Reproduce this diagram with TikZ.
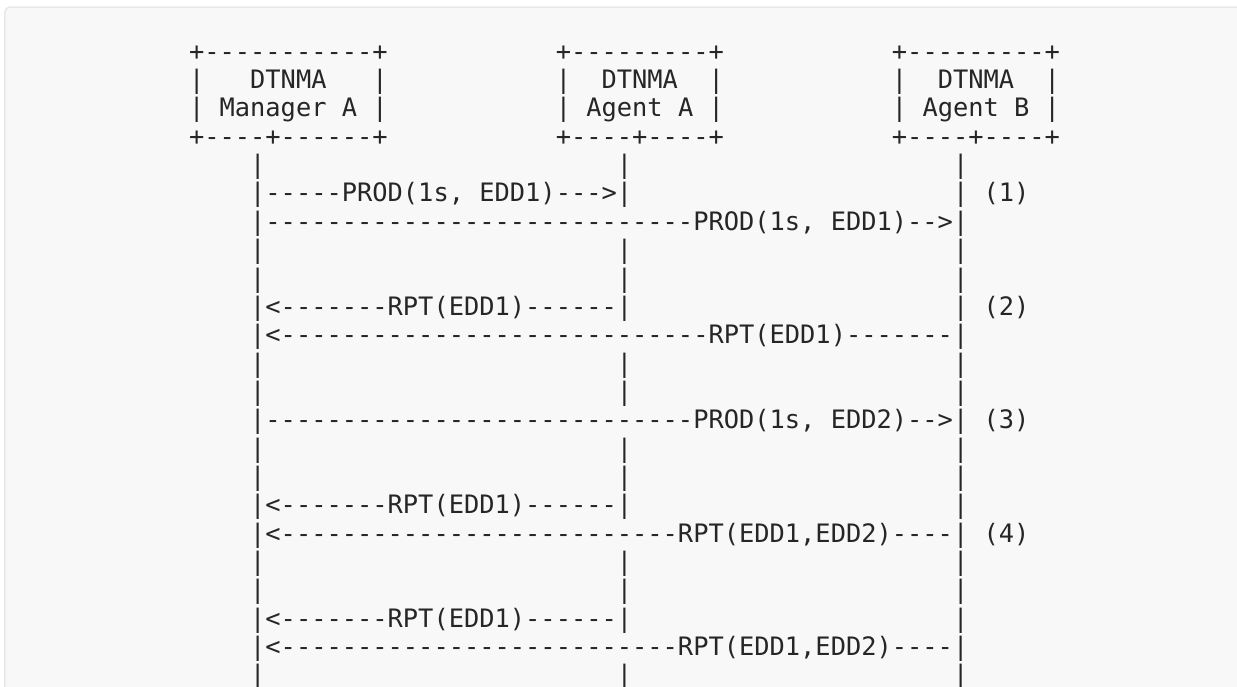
\documentclass[tikz,border=0pt]{standalone}
\usepackage{fontspec}
\setmonofont{DejaVu Sans Mono}
\definecolor{txt}{HTML}{262626}
\definecolor{panel}{HTML}{F8F8F8}
\definecolor{panelline}{HTML}{E8E8E8}
\tikzset{
  asc/.style={font=\ttfamily\fontsize{25.38pt}{28.35pt}\selectfont, anchor=base west,
    inner sep=0pt, outer sep=0pt, text=txt}
}
\begin{document}
\begin{tikzpicture}[x=15.28pt,y=-28.35pt]
\useasboundingbox (-189.06pt,60.2pt) rectangle (1047.94pt,-625.8pt);
\fill[white] (-189.06pt,60.2pt) rectangle (1047.94pt,-625.8pt);
\filldraw[fill=panel,draw=panelline,line width=1.5pt,rounded corners=5pt]
  (-184.06pt,53.2pt) rectangle (1070pt,-660pt);
% boxes
\node[asc] (mgrTop) at (0,0) {+-----------+};
\node[asc] (aaTop) at (24,0) {+---------+};
\node[asc] (abTop) at (46,0) {+---------+};
\node[asc] (mgrA) at (0,1) {|\ \ \ DTNMA\ \ \ |};
\node[asc] (aaA) at (24,1) {|\ \ DTNMA\ \ |};
\node[asc] (abA) at (46,1) {|\ \ DTNMA\ \ |};
\node[asc] (mgrB) at (0,2) {|\ Manager\ A\ |};
\node[asc] (aaB) at (24,2) {|\ Agent\ A\ |};
\node[asc] (abB) at (46,2) {|\ Agent\ B\ |};
\node[asc] (mgrBot) at (0,3) {+----+------+};
\node[asc] (aaBot) at (24,3) {+----+----+};
\node[asc] (abBot) at (46,3) {+----+----+};
% lifelines
\foreach \r in {4,7,8,11,12,14,15,18,19,22}{
  \node[asc] (lm\r) at (4,\r) {|};
  \node[asc] (la\r) at (28,\r) {|};
  \node[asc] (lb\r) at (50,\r) {|};
}
\foreach \r in {5,9,16,20}{
  \node[asc] (lb\r) at (50,\r) {|};
}
% messages
\node[asc] (m1a) at (4,5) {|-----PROD(1s,\ EDD1)--->|};
\node[asc] (n1) at (52,5) {(1)};
\node[asc] (m1b) at (4,6) {|----------------------------PROD(1s,\ EDD1)-->|};
\node[asc] (m2a) at (4,9) {|<-------RPT(EDD1)------|};
\node[asc] (n2) at (52,9) {(2)};
\node[asc] (m2b) at (4,10) {|<----------------------------RPT(EDD1)-------|};
\node[asc] (m3) at (4,13) {|----------------------------PROD(1s,\ EDD2)-->|};
\node[asc] (n3) at (52,13) {(3)};
\node[asc] (m4a) at (4,16) {|<-------RPT(EDD1)------|};
\node[asc] (m4b) at (4,17) {|<--------------------------RPT(EDD1,EDD2)----|};
\node[asc] (n4) at (52,17) {(4)};
\node[asc] (m5a) at (4,20) {|<-------RPT(EDD1)------|};
\node[asc] (m5b) at (4,21) {|<--------------------------RPT(EDD1,EDD2)----|};
\end{tikzpicture}
\end{document}
